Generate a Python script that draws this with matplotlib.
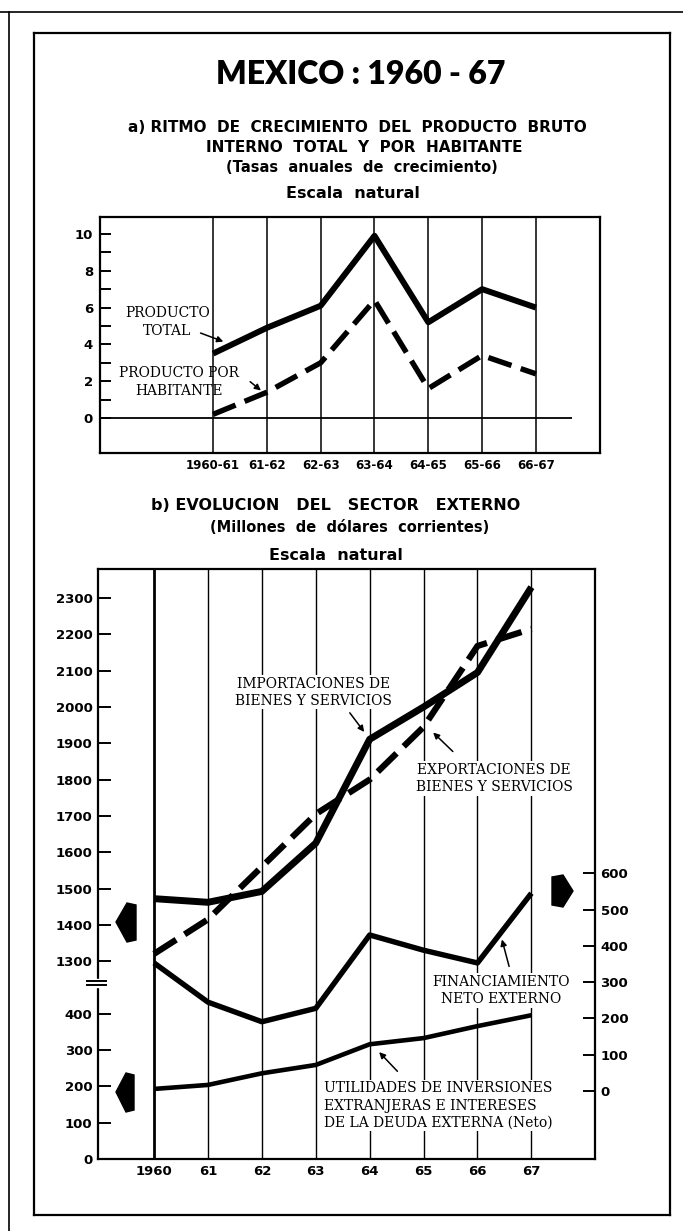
import numpy as np
import matplotlib.pyplot as plt
from matplotlib.lines import Line2D
from matplotlib.patches import Polygon

plt.rcParams['font.family'] = ['DejaVu Sans']
plt.rcParams['font.weight'] = 'bold'

W, H = 683, 1231

# ---- a) crecimiento del producto (tasas anuales, %)
periodos = ['1960-61', '61-62', '62-63', '63-64', '64-65', '65-66', '66-67']
producto_total = [3.5, 4.9, 6.1, 9.9, 5.2, 7.0, 6.0]
producto_hab = [0.2, 1.4, 3.0, 6.4, 1.6, 3.4, 2.4]

# ---- b) sector externo (millones de dolares)
anios = [1960, 1961, 1962, 1963, 1964, 1965, 1966, 1967]
anio_labels = ['1960', '61', '62', '63', '64', '65', '66', '67']
importaciones = [1472, 1462, 1492, 1625, 1911, 2000, 2095, 2330]
exportaciones = [1320, 1415, 1560, 1705, 1800, 1945, 2168, 2215]
financiamiento = [353, 245, 191, 228, 430, 388, 353, 545]   # escala derecha
utilidades = [193, 204, 236, 259, 316, 333, 366, 396]       # escala izquierda

left_ticks = [0, 100, 200, 300, 400, 1300, 1400, 1500, 1600, 1700, 1800,
              1900, 2000, 2100, 2200, 2300]
right_ticks = [0, 100, 200, 300, 400, 500, 600]

serif = ['DejaVu Serif']
txt_kw = dict(fontsize=10, family=serif, fontweight='normal', linespacing=1.3)
lab_kw = dict(txt_kw, bbox=dict(facecolor='white', edgecolor='none', pad=1), zorder=4)
arr_kw = dict(arrowstyle='-|>', color='black', lw=1.1, mutation_scale=9)


def fx(x):
    return x / W


def fy(y):
    return 1 - y / H


fig = plt.figure(figsize=(W / 100, H / 100), dpi=100)
fig.patch.set_facecolor('white')

# frames
for xs, ys, lw in [([0, W], [12, 12], 1.2), ([9, 9], [12, H], 1.2),
                   ([34, 670], [33, 33], 1.6), ([34, 34], [33, 1215], 1.6),
                   ([670, 670], [33, 1215], 1.6), ([34, 670], [1215, 1215], 1.6)]:
    fig.add_artist(Line2D([fx(v) for v in xs], [fy(v) for v in ys],
                          transform=fig.transFigure, color='black', lw=lw))

# titles
fig.text(fx(361), fy(75), 'MEXICO : 1960 - 67', ha='center', va='center', fontsize=23,
         family=['Lato', 'DejaVu Sans'], fontweight='heavy')
fig.text(fx(357), fy(127), 'a) RITMO  DE  CRECIMIENTO  DEL  PRODUCTO  BRUTO',
         ha='center', va='center', fontsize=11)
fig.text(fx(364), fy(147), 'INTERNO  TOTAL  Y  POR  HABITANTE',
         ha='center', va='center', fontsize=11)
fig.text(fx(362), fy(168), '(Tasas  anuales  de  crecimiento)',
         ha='center', va='center', fontsize=10.5)
fig.text(fx(353), fy(193), 'Escala  natural', ha='center', va='center', fontsize=11.5)

fig.text(fx(336), fy(505), 'b) EVOLUCION   DEL   SECTOR   EXTERNO',
         ha='center', va='center', fontsize=11.5)
fig.text(fx(350), fy(527), '(Millones  de  dólares  corrientes)',
         ha='center', va='center', fontsize=10.5)
fig.text(fx(336), fy(555), 'Escala  natural', ha='center', va='center', fontsize=11.5)

# ================= panel a =================
axa = fig.add_axes([fx(100), fy(453), fx(600) - fx(100), fy(217) - fy(453)])
xa = np.arange(len(periodos))
for x in xa:
    axa.axvline(x, color='black', lw=1.1, zorder=1)
axa.hlines(0, -2.1, 6.67, color='black', lw=1.3, zorder=1)
axa.plot(xa, producto_total, color='black', lw=4.3, solid_capstyle='butt', zorder=3)
axa.plot(xa, producto_hab, color='black', lw=3.9, linestyle=(0, (4.5, 1.8)),
         dash_capstyle='butt', zorder=3)
axa.set_xlim(-2.1, 7.19)
axa.set_ylim(-1.9, 10.92)
axa.set_xticks(xa)
axa.set_xticklabels(periodos, fontsize=8.5)
axa.tick_params(axis='x', length=0, pad=4)
axa.set_yticks(range(0, 11))
axa.set_yticklabels([str(v) if v % 2 == 0 else '' for v in range(0, 11)], fontsize=9.5)
axa.set_yticks([5, 10], minor=True)
axa.tick_params(axis='y', which='major', direction='in', length=8, width=1.4, pad=5)
axa.tick_params(axis='y', which='minor', direction='in', length=17, width=1.6)
for s in axa.spines.values():
    s.set_linewidth(1.6)

axa.text(-0.85, 5.22, 'PRODUCTO\nTOTAL', ha='center', va='center', **txt_kw)
axa.annotate('', xy=(0.24, 4.1), xytext=(-0.28, 4.67), arrowprops=arr_kw)
axa.text(-0.63, 1.96, 'PRODUCTO POR\nHABITANTE', ha='center', va='center', **txt_kw)
axa.annotate('', xy=(0.93, 1.4), xytext=(0.65, 2.07), arrowprops=arr_kw)

# ================= panel b =================
def fwd(v):
    return np.interp(v, [-1e4, 480, 1260, 1e4], [-1e4, 480, 505, 1e4 - 755])


def inv(d):
    return np.interp(d, [-1e4, 480, 505, 1e4 - 755], [-1e4, 480, 1260, 1e4])


axb = fig.add_axes([fx(98), fy(1159), fx(595) - fx(98), fy(569) - fy(1159)])
axb.set_yscale('function', functions=(fwd, inv))
for yr in anios:
    axb.axvline(yr, color='black', lw=2.0 if yr == 1960 else 1.0, zorder=1)
axb.plot(anios, importaciones, color='black', lw=5.0, solid_capstyle='butt', zorder=3)
axb.plot(anios, exportaciones, color='black', lw=4.5, linestyle=(0, (4.2, 1.6)),
         dash_capstyle='butt', zorder=3)
axb.plot(anios, utilidades, color='black', lw=3.3, solid_capstyle='butt', zorder=3)
axb.set_xlim(1958.96, 1968.18)
axb.set_ylim(0, 2380)
axb.set_xticks(anios)
axb.set_xticklabels(anio_labels, fontsize=9.5)
axb.tick_params(axis='x', length=0, pad=4)
axb.set_yticks(left_ticks)
axb.set_yticklabels([str(v) for v in left_ticks], fontsize=9.5)
axb.set_yticks([1500, 2000], minor=True)
axb.yaxis.set_minor_formatter(plt.NullFormatter())
axb.tick_params(axis='y', which='major', direction='in', length=9, width=1.4, pad=4)
axb.tick_params(axis='y', which='minor', direction='in', length=17, width=1.8)
for s in axb.spines.values():
    s.set_linewidth(1.6)

ax2 = axb.twinx()
ax2.set_ylim(-187, 1438)
ax2.plot(anios, financiamiento, color='black', lw=3.9, solid_capstyle='butt', zorder=3)
ax2.set_yticks(right_ticks)
ax2.set_yticklabels([str(v) for v in right_ticks], fontsize=9.5)
ax2.set_yticks([0, 500], minor=True)
ax2.yaxis.set_minor_formatter(plt.NullFormatter())
ax2.tick_params(axis='y', which='major', direction='in', length=9, width=1.4, pad=4)
ax2.tick_params(axis='y', which='minor', direction='in', length=16, width=1.8)
for s in ax2.spines.values():
    s.set_visible(False)

# axis break mark on the left spine
axb.add_patch(plt.Rectangle((-0.01, 0.292), 0.02, 0.013, transform=axb.transAxes,
                            color='white', clip_on=False, zorder=5))
for yf in (0.295, 0.302):
    axb.add_artist(Line2D([-0.022, 0.016], [yf, yf], transform=axb.transAxes,
                          color='black', lw=1.4, clip_on=False, zorder=6))

# labels
axb.text(1962.95, 2040, 'IMPORTACIONES DE\nBIENES Y SERVICIOS', ha='center', va='center',
         **lab_kw)
axb.annotate('', xy=(1963.93, 1925), xytext=(1963.6, 1990), arrowprops=arr_kw)
axb.text(1966.31, 1803, 'EXPORTACIONES DE\nBIENES Y SERVICIOS', ha='center', va='center',
         **lab_kw)
axb.annotate('', xy=(1965.14, 1935), xytext=(1965.58, 1872), arrowprops=arr_kw)
ax2.text(1966.44, 277, 'FINANCIAMIENTO\nNETO EXTERNO', ha='center', va='center', **lab_kw)
ax2.annotate('', xy=(1966.44, 425), xytext=(1966.6, 336), arrowprops=arr_kw)
axb.text(1963.15, 147, 'UTILIDADES DE INVERSIONES\nEXTRANJERAS E INTERESES\nDE LA DEUDA EXTERNA (Neto)',
         ha='left', va='center', **lab_kw)
axb.annotate('', xy=(1964.14, 300), xytext=(1964.55, 236), arrowprops=arr_kw)

# block arrows showing which scale each curve uses
for pts in [[(116, 922), (127, 903), (136, 905), (136, 940), (127, 942)],
            [(116, 1092), (126, 1073), (134, 1075), (134, 1110), (126, 1112)],
            [(573, 891), (563, 875), (552, 877), (552, 905), (563, 907)]]:
    fig.add_artist(Polygon([(fx(a), fy(b)) for a, b in pts], closed=True,
                           transform=fig.transFigure, color='black'))

fig.savefig('out.png', dpi=100, facecolor='white')
